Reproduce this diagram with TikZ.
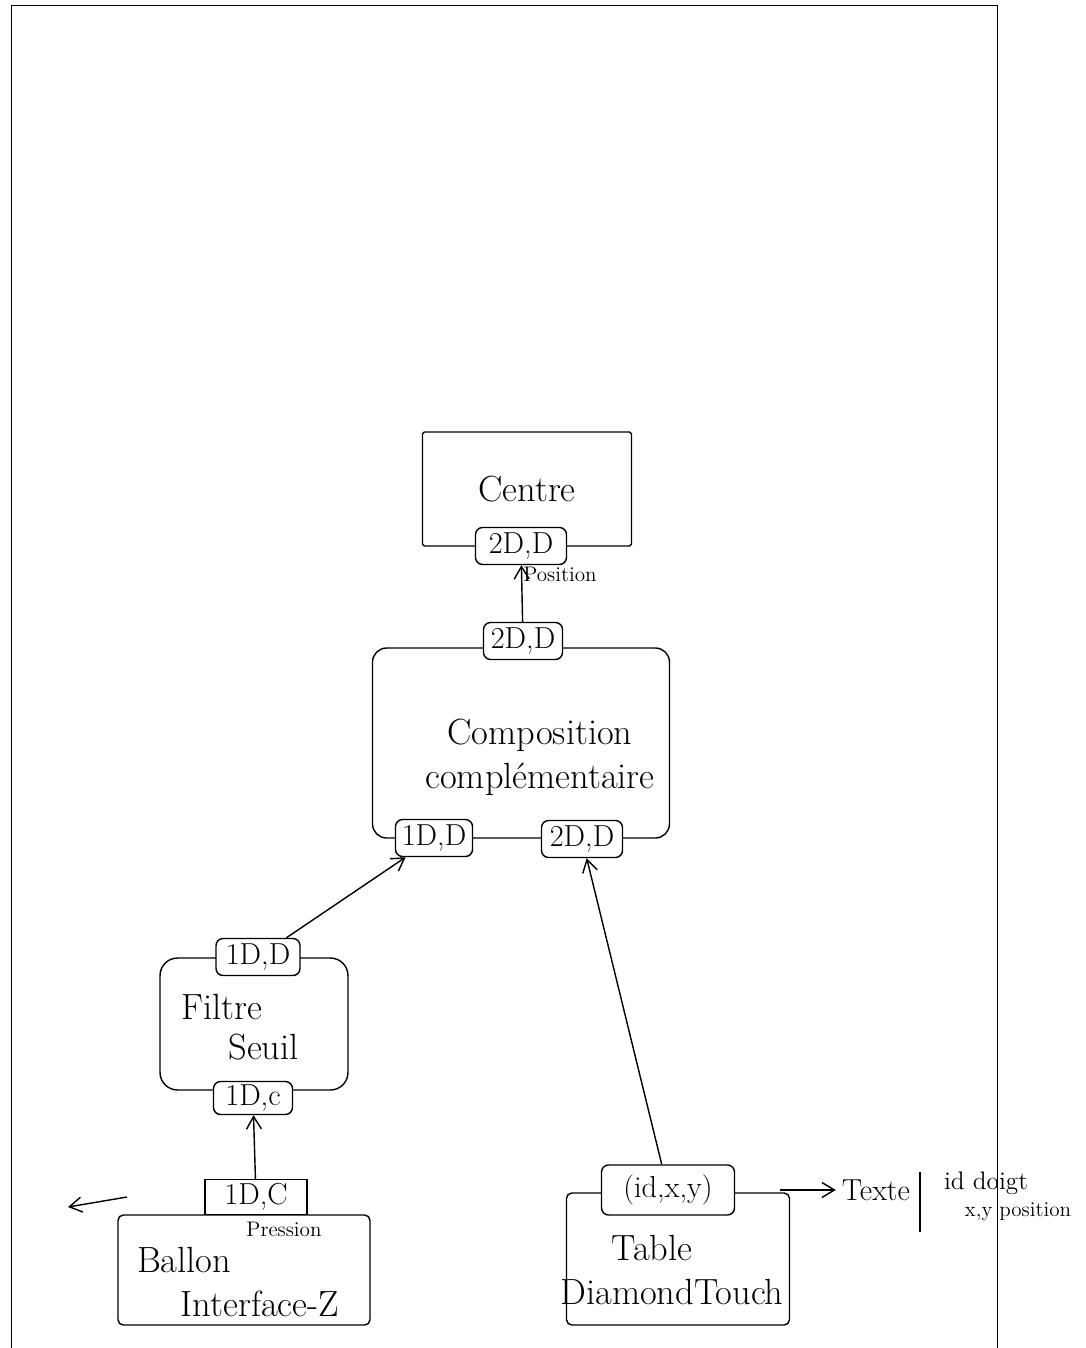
\documentclass[tikz,border=0pt]{standalone}
\usepackage{tikz}
\usetikzlibrary{arrows.meta, positioning}

\begin{document}
\begin{tikzpicture}[
    x=0.02cm, y=-0.02cm,
    blk/.style={draw, thick, rounded corners=3pt, inner sep=0pt},
    port/.style={draw, thick, fill=white, rounded corners=4pt, font=\LARGE,
                 inner sep=0pt, minimum height=0.74cm},
    lbl/.style={font=\huge, align=center},
    note/.style={font=\large},
    arr/.style={thick, -{Straight Barb[length=2.5mm, width=3mm]}},
]
\useasboundingbox (0,0) rectangle (1085,1348);
\draw (11,1348) -- (11,5) -- (997,5) -- (997,1348);

\node[blk, rounded corners=1pt, minimum width=4.18cm, minimum height=2.28cm, font=\huge] (centre) at (527,489) {Centre};
\node[blk, rounded corners=8pt, minimum width=5.94cm, minimum height=3.8cm] (compo) at (521,743) {};
\node[lbl] (compotxt) at (540,757) {Composition\\complémentaire};
\node[blk, rounded corners=10pt, minimum width=3.76cm, minimum height=2.64cm] (filtre) at (254,1024) {};
\node[lbl, align=left, inner sep=1pt] (filtretxt) at (240,1027) {Filtre\\[-2pt]\hspace{1.3em}Seuil};
\node[blk, minimum width=5.04cm, minimum height=2.2cm] (ballon) at (244,1270) {};
\node[lbl, align=left] (ballontxt) at (238,1282) {Ballon\\\hspace{1.2em}Interface-Z};
\node[blk, minimum width=4.46cm, minimum height=2.64cm] (table) at (678,1259) {};
\node[lbl, align=left] (tabletxt) at (672,1270) {\hspace{1.4em}Table\\DiamondTouch};

\node[port, minimum width=1.82cm] (cout) at (521,546) {2D,D};
\node[port, minimum width=1.58cm] (cin) at (523,641) {2D,D};
\node[port, minimum width=1.54cm] (cin1) at (434,838) {1D,D};
\node[port, minimum width=1.62cm] (cin2) at (582,839) {2D,D};
\node[port, minimum width=1.68cm] (fout) at (258,957) {1D,D};
\node[port, minimum width=1.58cm, minimum height=0.66cm] (fin) at (253,1098) {1D,c};
\node[port, rounded corners=0pt, minimum width=2.04cm, minimum height=0.7cm] (bout) at (256,1197) {1D,C};
\node[port, minimum width=2.66cm, minimum height=1.0cm] (tout) at (668,1190) {(id,x,y)};

\node[note] (pos) at (560,574) {Position};
\node[note] (pres) at (284,1229) {Pression};
\node[font=\LARGE] (texte) at (876,1190) {Texte};
\node[font=\Large] (doigt) at (986,1183) {id doigt};
\node[note] (xypos) at (1018,1212) {x,y position};
\coordinate (left) at (68,1207);

\draw[arr] (cin) -- (cout);
\draw[arr] (fout) -- (cin1);
\draw[arr] (tout) -- (cin2);
\draw[arr] (bout) -- (fin);
\draw[arr] (127,1197) -- (left);
\draw[arr, shorten <=0.9cm] (tout.east) -- (texte);
\draw[thick] (920,1172) -- (920,1232);
\end{tikzpicture}
\end{document}
